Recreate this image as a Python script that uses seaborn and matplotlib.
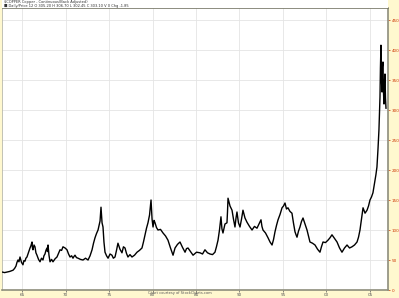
import numpy as np
import pandas as pd
import seaborn as sns
import matplotlib
matplotlib.use("Agg")
import matplotlib.pyplot as plt
from matplotlib.patches import Rectangle

# ---- data ----
years = [1962.70, 1963.00, 1963.28, 1963.60, 1963.97, 1964.15, 1964.31, 1964.42, 1964.54, 1964.65,
         1964.77, 1964.94, 1965.11, 1965.22, 1965.34, 1965.45, 1965.57, 1965.75, 1965.92, 1966.03,
         1966.15, 1966.20, 1966.26, 1966.38, 1966.49, 1966.60, 1966.72, 1966.90, 1967.07, 1967.24,
         1967.41, 1967.52, 1967.64, 1967.75, 1967.87, 1967.93, 1967.99, 1968.10, 1968.22, 1968.40,
         1968.56, 1968.80, 1969.02, 1969.20, 1969.37, 1969.55, 1969.71, 1969.95, 1970.17, 1970.35,
         1970.52, 1970.70, 1970.86, 1970.98, 1971.09, 1971.26, 1971.44, 1971.72, 1972.01, 1972.30,
         1972.59, 1972.82, 1973.05, 1973.22, 1973.39, 1973.56, 1973.74, 1973.86, 1973.97, 1974.02,
         1974.08, 1974.20, 1974.31, 1974.42, 1974.54, 1974.72, 1974.89, 1975.12, 1975.34, 1975.50,
         1975.69, 1975.86, 1976.03, 1976.26, 1976.49, 1976.66, 1976.84, 1977.01, 1977.18, 1977.41,
         1977.64, 1977.93, 1978.22, 1978.50, 1978.79, 1978.96, 1979.14, 1979.31, 1979.48, 1979.66,
         1979.83, 1979.95, 1980.06, 1980.18, 1980.29, 1980.46, 1980.63, 1980.92, 1981.21, 1981.50,
         1981.78, 1982.07, 1982.36, 1982.48, 1982.59, 1982.87, 1983.16, 1983.45, 1983.74, 1983.91,
         1984.08, 1984.37, 1984.66, 1985.06, 1985.46, 1985.75, 1986.03, 1986.32, 1986.61, 1986.90,
         1987.18, 1987.35, 1987.53, 1987.70, 1987.87, 1987.98, 1988.10, 1988.33, 1988.56, 1988.62,
         1988.68, 1988.91, 1989.14, 1989.31, 1989.48, 1989.60, 1989.71, 1989.88, 1990.06, 1990.23,
         1990.40, 1990.63, 1990.86, 1991.15, 1991.44, 1991.72, 1992.01, 1992.24, 1992.47, 1992.58,
         1992.70, 1992.99, 1993.28, 1993.51, 1993.74, 1993.91, 1994.08, 1994.26, 1994.43, 1994.66,
         1994.89, 1995.06, 1995.23, 1995.40, 1995.57, 1995.80, 1996.03, 1996.20, 1996.38, 1996.50,
         1996.61, 1996.78, 1996.95, 1997.12, 1997.30, 1997.53, 1997.76, 1997.93, 1998.10, 1998.39,
         1998.68, 1998.97, 1999.25, 1999.42, 1999.60, 1999.88, 2000.17, 2000.40, 2000.63, 2000.92,
         2001.21, 2001.50, 2001.78, 2002.07, 2002.36, 2002.65, 2002.93, 2003.22, 2003.51, 2003.68,
         2003.85, 2004.02, 2004.20, 2004.43, 2004.66, 2004.83, 2005.00, 2005.17, 2005.34, 2005.45,
         2005.57, 2005.68, 2005.80, 2005.92, 2006.03, 2006.09, 2006.15, 2006.20, 2006.26, 2006.32,
         2006.38, 2006.43, 2006.49, 2006.55, 2006.61, 2006.66, 2006.72, 2006.78, 2006.84]
prices = [30, 29, 30, 31, 33, 36, 40, 46, 50, 47,
          55, 46, 42, 49, 48, 53, 55, 63, 70, 74,
          80, 70, 67, 75, 72, 62, 58, 51, 47, 53,
          50, 57, 60, 66, 70, 64, 75, 58, 47, 51,
          47, 52, 55, 61, 67, 66, 72, 70, 67, 60,
          55, 57, 53, 56, 58, 54, 53, 51, 50, 53,
          50, 57, 67, 78, 87, 94, 100, 108, 115, 125,
          138, 112, 105, 80, 63, 57, 53, 60, 58, 53,
          55, 66, 78, 68, 62, 72, 70, 61, 55, 59,
          55, 58, 63, 66, 70, 80, 92, 103, 112, 125,
          150, 118, 105, 116, 112, 104, 100, 101, 95, 90,
          83, 70, 58, 64, 70, 76, 80, 71, 63, 69,
          70, 64, 58, 63, 62, 60, 67, 62, 60, 59,
          63, 72, 83, 100, 122, 102, 95, 110, 112, 130,
          153, 140, 133, 118, 105, 120, 130, 112, 105, 118,
          133, 120, 113, 106, 100, 106, 103, 110, 117, 106,
          100, 95, 87, 80, 75, 84, 97, 108, 117, 126,
          137, 140, 145, 135, 137, 131, 128, 112, 97, 92,
          88, 98, 105, 114, 120, 110, 100, 90, 80, 78,
          75, 68, 63, 72, 80, 79, 83, 87, 92, 86,
          80, 70, 63, 70, 75, 70, 72, 75, 80, 88,
          100, 118, 137, 128, 133, 140, 150, 155, 162, 172,
          183, 192, 205, 235, 267, 295, 322, 370, 408, 350,
          330, 372, 380, 330, 310, 345, 360, 320, 303]

year_ticks = [1965, 1970, 1975, 1980, 1985, 1990, 1995, 2000, 2005]
year_labels = ["65", "70", "75", "80", "85", "90", "95", "00", "05"]
price_ticks = [0, 50, 100, 150, 200, 250, 300, 350, 400, 450]

title_line1 = "$COPPER Copper - Continuous(Back Adjusted)"
title_line2 = "\u25a0 Daily/Price 12 O 305.20 H 306.70 L 302.45 C 303.10 V 0 Chg -1.85"
footer = "Chart courtesy of StockCharts.com"

df = pd.DataFrame({"year": years, "price": prices})

# ---- figure ----
W, H = 399, 298
fig = plt.figure(figsize=(W / 100, H / 100), dpi=100)
bg = "#FFF8CF"
fig.patch.set_facecolor(bg)

L, R, T, B = 2, 388, 8, 290
ax = fig.add_axes([L / W, (H - B) / H, (R - L) / W, (B - T) / H])
ax.set_facecolor("white")

# white header band
fig.patches.append(Rectangle((L / W, (H - T) / H), (R - L) / W, T / H,
                             transform=fig.transFigure, facecolor="white",
                             edgecolor="none", zorder=0))

sns.lineplot(data=df, x="year", y="price", ax=ax, color="black",
             linewidth=1.0, estimator=None, sort=False, zorder=3)

ax.set_xlim(1962.70, 2007.07)
ax.set_ylim(0, 470)

ax.set_xticks(year_ticks)
ax.set_xticklabels(year_labels)
ax.set_yticks(price_ticks)
ax.set_yticklabels([str(v) for v in price_ticks])
ax.yaxis.tick_right()
ax.tick_params(axis="y", labelsize=3, colors="#CC3300", length=1.5, width=0.5, pad=1)
ax.tick_params(axis="x", labelsize=3, colors="#555555", length=1.5, width=0.5, pad=1)
ax.set_xlabel("")
ax.set_ylabel("")

ax.grid(True, color="#E4E4E4", linewidth=0.6, zorder=0)
ax.set_axisbelow(True)

ax.spines["left"].set_color("#B8B8A8")
ax.spines["left"].set_linewidth(0.6)
ax.spines["top"].set_color("#7A7A6A")
ax.spines["top"].set_linewidth(0.6)
for side in ["right", "bottom"]:
    ax.spines[side].set_color("#8E8E7C")
    ax.spines[side].set_linewidth(1.2)

fig.text(4 / W, 1 - 2.2 / H, title_line1, fontsize=2.6, color="#333333", va="center", ha="left")
fig.text(4 / W, 1 - 5.8 / H, title_line2, fontsize=2.6, color="#333333", va="center", ha="left")
fig.text(180 / W, 1 - 293 / H, footer, fontsize=2.6, color="#555555", va="center", ha="center")

fig.savefig("out.png", dpi=100, facecolor=fig.get_facecolor())
